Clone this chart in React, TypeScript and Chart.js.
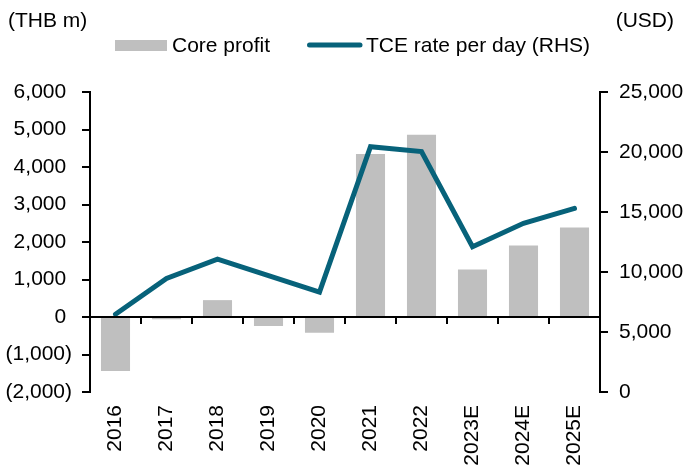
import React, { useEffect, useRef } from 'react';
import { Chart, registerables } from 'chart.js';

Chart.register(...registerables);

const categories = ['2016', '2017', '2018', '2019', '2020', '2021', '2022', '2023E', '2024E', '2025E'];
const coreProfit = [-1440, -60, 450, -240, -420, 4350, 4860, 1270, 1910, 2390];
const tceRate = [6480, 9470, 11080, 9700, 8320, 20440, 20040, 12100, 14060, 15300];

const leftMin = -2000;
const leftMax = 6000;
const leftStep = 1000;
const rightMin = 0;
const rightMax = 25000;
const rightStep = 5000;

const leftTitle = '(THB m)';
const rightTitle = '(USD)';
const barLabel = 'Core profit';
const lineLabel = 'TCE rate per day (RHS)';

const BAR_COLOR = '#bfbfbf';
const LINE_COLOR = '#07627a';
const FONT = '"Liberation Sans", Arial, sans-serif';
const FONT_SIZE = 21;

const fmtLeft = (v: number) => {
  const s = Math.abs(v).toLocaleString('en-US');
  return v < 0 ? `(${s})` : `${s}\u2008`;
};
const fmtRight = (v: number) => v.toLocaleString('en-US');

const decorPlugin = {
  id: 'decor',
  afterDatasetsDraw(chart: any) {
    const { ctx, chartArea, scales } = chart;
    const y0 = scales.y.getPixelForValue(0);
    ctx.save();
    ctx.strokeStyle = '#000';
    ctx.lineWidth = 2;
    ctx.beginPath();
    ctx.moveTo(chartArea.left, y0);
    ctx.lineTo(chartArea.right, y0);
    ctx.stroke();
    for (let i = 1; i < categories.length; i++) {
      const x = Math.round((scales.x.getPixelForValue(i - 1) + scales.x.getPixelForValue(i)) / 2);
      ctx.beginPath();
      ctx.moveTo(x, y0);
      ctx.lineTo(x, y0 + 7);
      ctx.stroke();
    }
    ctx.restore();
  },
  afterDraw(chart: any) {
    const { ctx } = chart;
    ctx.save();
    ctx.font = `${FONT_SIZE}px ${FONT}`;
    ctx.fillStyle = '#000';
    ctx.textBaseline = 'alphabetic';
    ctx.textAlign = 'left';
    ctx.fillText(leftTitle, 8, 27);
    ctx.textAlign = 'right';
    ctx.fillText(rightTitle, 674, 27);
    // legend
    ctx.textAlign = 'left';
    ctx.fillStyle = BAR_COLOR;
    ctx.fillRect(115, 40, 52, 11);
    ctx.fillStyle = '#000';
    ctx.fillText(barLabel, 172, 52);
    ctx.strokeStyle = LINE_COLOR;
    ctx.lineWidth = 5;
    ctx.lineCap = 'round';
    ctx.beginPath();
    ctx.moveTo(309.5, 45);
    ctx.lineTo(360, 45);
    ctx.stroke();
    ctx.fillText(lineLabel, 366, 52);
    ctx.restore();
  },
};

export default function App() {
  const ref = useRef<HTMLCanvasElement | null>(null);
  useEffect(() => {
    if (!ref.current) return;
    Chart.defaults.font.family = FONT;
    const chart = new Chart(ref.current, {
      type: 'bar',
      data: {
        labels: categories,
        datasets: [
          {
            type: 'line',
            label: lineLabel,
            data: tceRate,
            yAxisID: 'y1',
            borderColor: LINE_COLOR,
            backgroundColor: LINE_COLOR,
            borderWidth: 5,
            pointRadius: 0,
            tension: 0,
            borderCapStyle: 'round',
            order: 0,
          } as any,
          {
            type: 'bar',
            label: barLabel,
            data: coreProfit,
            yAxisID: 'y',
            backgroundColor: BAR_COLOR,
            barPercentage: 0.57,
            categoryPercentage: 1,
            order: 1,
          },
        ],
      },
      options: {
        animation: false,
        responsive: true,
        maintainAspectRatio: false,
        layout: { padding: { top: 92, left: 0, right: 0, bottom: 0 } },
        plugins: { legend: { display: false }, tooltip: { enabled: false } },
        scales: {
          x: {
            position: 'bottom',
            grid: { display: false, drawTicks: false },
            border: { display: false },
            ticks: {
              maxRotation: 90,
              minRotation: 90,
              autoSkip: false,
              padding: 13,
              color: '#000',
              font: { size: FONT_SIZE, family: FONT },
            },
            afterFit: (s: any) => { s.height = 76; },
          },
          y: {
            position: 'left',
            min: leftMin,
            max: leftMax,
            grid: { drawOnChartArea: false, drawTicks: true, tickLength: 8, color: '#000', lineWidth: 2 },
            border: { display: true, color: '#000', width: 2 },
            ticks: {
              stepSize: leftStep,
              padding: 10,
              color: '#000',
              font: { size: FONT_SIZE, family: FONT },
              callback: (v: any) => fmtLeft(Number(v)),
            },
            afterFit: (s: any) => { s.width = 90; },
          },
          y1: {
            position: 'right',
            min: rightMin,
            max: rightMax,
            grid: { drawOnChartArea: false, drawTicks: true, tickLength: 8, color: '#000', lineWidth: 2 },
            border: { display: true, color: '#000', width: 2 },
            ticks: {
              stepSize: rightStep,
              padding: 11,
              color: '#000',
              font: { size: FONT_SIZE, family: FONT },
              callback: (v: any) => fmtRight(Number(v)),
            },
            afterFit: (s: any) => { s.width = 83; },
          },
        },
      },
      plugins: [decorPlugin],
    });
    return () => chart.destroy();
  }, []);
  return (
    <div style={{ position: 'absolute', left: 0, top: 0, width: 683, height: 468 }}>
      <canvas ref={ref} />
    </div>
  );
}
